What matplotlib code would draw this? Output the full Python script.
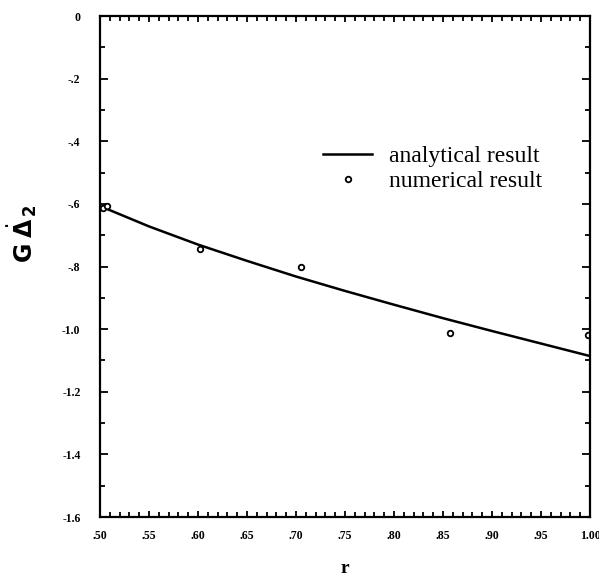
import matplotlib
matplotlib.use("Agg")
import matplotlib.pyplot as plt
from matplotlib.ticker import MultipleLocator, FuncFormatter

# analytical curve
r_line = [0.50, 0.55, 0.60, 0.65, 0.70, 0.75, 0.80, 0.85, 0.90, 0.95, 1.00]
g_line = [-0.607, -0.672, -0.730, -0.782, -0.832, -0.878, -0.922, -0.965, -1.006, -1.046, -1.086]

# numerical points
r_num = [0.503, 0.507, 0.602, 0.705, 0.857, 0.998]
g_num = [-0.613, -0.608, -0.744, -0.803, -1.013, -1.018]

serif = ['Liberation Serif', 'DejaVu Serif']

fig = plt.figure(figsize=(5.99, 5.8), dpi=100)
ax = fig.add_axes([0.167, 0.1086, 0.818, 0.8638])

ax.plot(r_line, g_line, color='black', lw=1.8, label='analytical result')
ax.plot(r_num, g_num, linestyle='none', marker='o', ms=4, mfc='white', mec='black', mew=1.3,
        label='numerical result')

ax.set_xlim(0.5, 1.0)
ax.set_ylim(-1.6, 0)
ax.xaxis.set_major_locator(MultipleLocator(0.05))
ax.xaxis.set_minor_locator(MultipleLocator(0.01))
ax.yaxis.set_major_locator(MultipleLocator(0.2))
ax.yaxis.set_minor_locator(MultipleLocator(0.1))


def xfmt(v, pos):
    if abs(v - 1.0) < 1e-9:
        return '1.00'
    return ('%.2f' % v)[1:]


def yfmt(v, pos):
    if abs(v) < 1e-9:
        return '0'
    if v <= -0.999:
        return '%.1f' % v
    return '-' + ('%.1f' % abs(v))[1:]


ax.xaxis.set_major_formatter(FuncFormatter(xfmt))
ax.yaxis.set_major_formatter(FuncFormatter(yfmt))
ax.tick_params(which='both', direction='in', top=True, right=True, width=1.3)
ax.tick_params(which='major', length=6)
ax.tick_params(which='minor', length=3.5)
ax.tick_params(axis='x', which='major', length=4.5, pad=9)
ax.tick_params(axis='y', which='major', pad=14)
for lab in ax.get_xticklabels() + ax.get_yticklabels():
    lab.set_family(serif)
    lab.set_fontweight('bold')
    lab.set_fontsize(8.5)
for sp in ax.spines.values():
    sp.set_linewidth(1.6)

ax.set_xlabel('r', family=serif, fontweight='bold', fontsize=14)
ax.xaxis.set_label_coords(0.5, -0.085)
ax.set_ylabel(r'$\mathbf{G}\;\dot{\mathbf{\Delta}}_{\,\mathbf{2}}$', fontsize=17)
ax.yaxis.set_label_coords(-0.125, 0.565)

leg = ax.legend(loc='upper left', bbox_to_anchor=(0.4545, 0.742), frameon=False,
                prop={'family': serif, 'size': 17}, handlelength=2.1, handletextpad=0.7,
                labelspacing=0.15, borderpad=0, borderaxespad=0)

fig.savefig('out.png', dpi=100)
